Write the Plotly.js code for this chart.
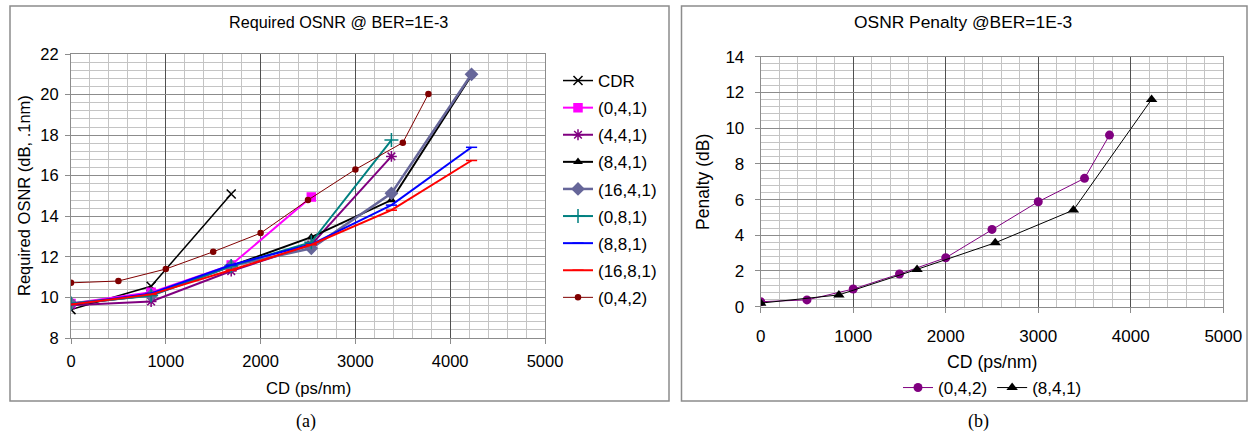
<!DOCTYPE html>
<html>
<head>
<meta charset="utf-8">
<script src="https://cdn.plot.ly/plotly-3.0.1.min.js"></script>
<style>html,body{margin:0;padding:0;background:#fff;}#chart{width:1249px;height:434px;}</style>
</head>
<body>
<div id="chart"></div>
<script>
// ---- data ----
var cd = [0, 845, 1690, 2535, 3380, 4225];
var cd042 = [0, 500, 1000, 1500, 2000, 2500, 3000, 3500, 3770];
var cdr = [9.4, 10.55, 15.1];
var s041 = [9.7, 10.25, 11.6, 14.95];
var s441 = [9.62, 9.8, 11.3, 12.6, 16.95];
var s841 = [9.65, 10.12, 11.55, 12.97, 14.8, 20.95];
var s1641 = [9.7, 10.1, 11.55, 12.42, 15.13, 21.0];
var s081 = [9.7, 10.1, 11.55, 12.72, 17.76];
var s881 = [9.65, 10.2, 11.6, 12.62, 14.55, 17.4];
var s1681 = [9.65, 10.15, 11.35, 12.6, 14.3, 16.75];
var s042 = [10.72, 10.81, 11.40, 12.25, 13.17, 14.8, 16.31, 17.63, 20.03];
var pen042 = [0.28, 0.38, 0.99, 1.83, 2.74, 4.33, 5.88, 7.19, 9.61];
var pen841 = [0.2, 0.66, 2.09, 3.58, 5.41, 11.61];
var xTicks = [0, 1000, 2000, 3000, 4000, 5000];

var W = 1249, H = 434;
var F = 'Liberation Sans, Arial, sans-serif';
function px(x){return x / W;}
function py(y){return 1 - y / H;}

function tr(name, xs, ys, color, width, symbol, msize){
  return {
    type: 'scatter', mode: 'lines+markers', name: name,
    x: xs.slice(0, ys.length), y: ys, xaxis: 'x', yaxis: 'y',
    line: {color: color, width: width},
    marker: {symbol: symbol, size: msize, color: color, line: {color: color, width: 1.5}},
    legendgroup: name, legend: 'legend'
  };
}

var traces = [
  tr('CDR', cd, cdr, '#000000', 1.5, 'x-thin-open', 9),
  tr('(0,4,1)', cd, s041, '#FF00FF', 2, 'square', 8),
  tr('(4,4,1)', cd, s441, '#800080', 2, 'asterisk-open', 9),
  tr('(8,4,1)', cd, s841, '#000000', 2, 'triangle-up', 6),
  tr('(16,4,1)', cd, s1641, '#666699', 2.5, 'diamond', 9),
  tr('(0,8,1)', cd, s081, '#008080', 2, 'cross-thin-open', 10),
  tr('(8,8,1)', cd, s881, '#0000FF', 2, 'line-ew-open', 8),
  tr('(16,8,1)', cd, s1681, '#FF0000', 2, 'line-ew-open', 8),
  tr('(0,4,2)', cd042, s042, '#800000', 1, 'circle', 5),
  {type:'scatter', mode:'lines+markers', name:'(0,4,2)', x: cd042, y: pen042, xaxis:'x2', yaxis:'y2',
   line:{color:'#800080', width:1}, marker:{symbol:'circle', size:9, color:'#800080'}, legend:'legend2'},
  {type:'scatter', mode:'lines+markers', name:'(8,4,1)', x: cd.slice(0, pen841.length), y: pen841, xaxis:'x2', yaxis:'y2',
   line:{color:'#000000', width:1}, marker:{symbol:'triangle-up', size:10, color:'#000000'}, legend:'legend2'}
];

function xax(d0, d1, anchor, standoff, fs){
  return {
    domain: [px(d0), px(d1)], anchor: anchor, range: [0, 5000],
    tickmode: 'array', tickvals: xTicks, ticktext: xTicks.map(String),
    showgrid: true, gridcolor: '#505050', gridwidth: 1,
    minor: {dtick: 200, tick0: 0, showgrid: true, gridcolor: '#c4c4c4', gridwidth: 1},
    showline: true, linecolor: '#8c8c8c', linewidth: 1, mirror: true,
    ticks: 'outside', ticklen: 5, tickcolor: '#8c8c8c',
    tickfont: {family: F, size: fs, color: '#000'}, ticklabelstandoff: standoff,
    zeroline: false, fixedrange: true
  };
}
function yax(d0, d1, anchor, r, standoff, fs){
  return {
    domain: [py(d1), py(d0)], anchor: anchor, range: r, dtick: 2, tick0: 0,
    showgrid: true, gridcolor: '#8c8c8c', gridwidth: 1,
    minor: {dtick: 0.4, tick0: 0, showgrid: true, gridcolor: '#c4c4c4', gridwidth: 1},
    showline: true, linecolor: '#8c8c8c', linewidth: 1, mirror: true,
    ticks: 'outside', ticklen: 5, tickcolor: '#8c8c8c',
    tickfont: {family: F, size: fs, color: '#000'}, ticklabelstandoff: standoff,
    zeroline: false, fixedrange: true
  };
}

function ann(text, x, y, size, extra){
  var a = {text: text, x: px(x), y: py(y), xref: 'paper', yref: 'paper', showarrow: false,
           xanchor: 'center', yanchor: 'middle', font: {family: F, size: size, color: '#000'}};
  if (extra) for (var k in extra) a[k] = extra[k];
  return a;
}
var SERIF = {family: 'Liberation Serif, Times New Roman, serif', size: 18, color: '#000'};

var layout = {
  width: W, height: H, margin: {l: 0, r: 0, t: 0, b: 0},
  paper_bgcolor: '#ffffff', plot_bgcolor: '#ffffff', showlegend: true,
  xaxis: xax(71, 545, 'y', 3, 16.5),
  yaxis: yax(54, 338, 'x', [8, 22], 3, 16.5),
  xaxis2: xax(760.7, 1223.3, 'y2', 9, 17),
  yaxis2: yax(56.7, 306.7, 'x2', [0, 14], 7, 17),
  legend: {x: px(558), y: py(63), xanchor: 'left', yanchor: 'top', orientation: 'v',
           font: {family: F, size: 17, color: '#000'}, bgcolor: 'rgba(0,0,0,0)',
           tracegroupgap: 2, itemclick: false, itemdoubleclick: false},
  legend2: {x: px(898), y: py(370), xanchor: 'left', yanchor: 'top', orientation: 'h',
           font: {family: F, size: 17, color: '#000'}, bgcolor: 'rgba(0,0,0,0)',
           itemclick: false, itemdoubleclick: false},
  shapes: [
    {type: 'rect', xref: 'paper', yref: 'paper', x0: px(10), x1: px(669), y0: py(401), y1: py(6),
     line: {color: '#8c8c8c', width: 1.5}, fillcolor: 'rgba(0,0,0,0)', layer: 'below'},
    {type: 'rect', xref: 'paper', yref: 'paper', x0: px(681.5), x1: px(1247), y0: py(401), y1: py(6),
     line: {color: '#8c8c8c', width: 1.5}, fillcolor: 'rgba(0,0,0,0)', layer: 'below'}
  ],
  annotations: [
    ann('Required OSNR @ BER=1E-3', 338, 22, 16.2),
    ann('OSNR Penalty @BER=1E-3', 963, 22, 17.4),
    ann('Required OSNR (dB, .1nm)', 24, 196, 16.5, {textangle: -90}),
    ann('Penalty (dB)', 703, 182, 17.5, {textangle: -90}),
    ann('CD (ps/nm)', 308, 388, 16.7),
    ann('CD (ps/nm)', 992, 362, 17.7),
    ann('(a)', 306, 421, 18, {font: SERIF}),
    ann('(b)', 978, 421, 18, {font: SERIF})
  ]
};

Plotly.newPlot('chart', traces, layout, {displayModeBar: false, staticPlot: true});
</script>
</body>
</html>
